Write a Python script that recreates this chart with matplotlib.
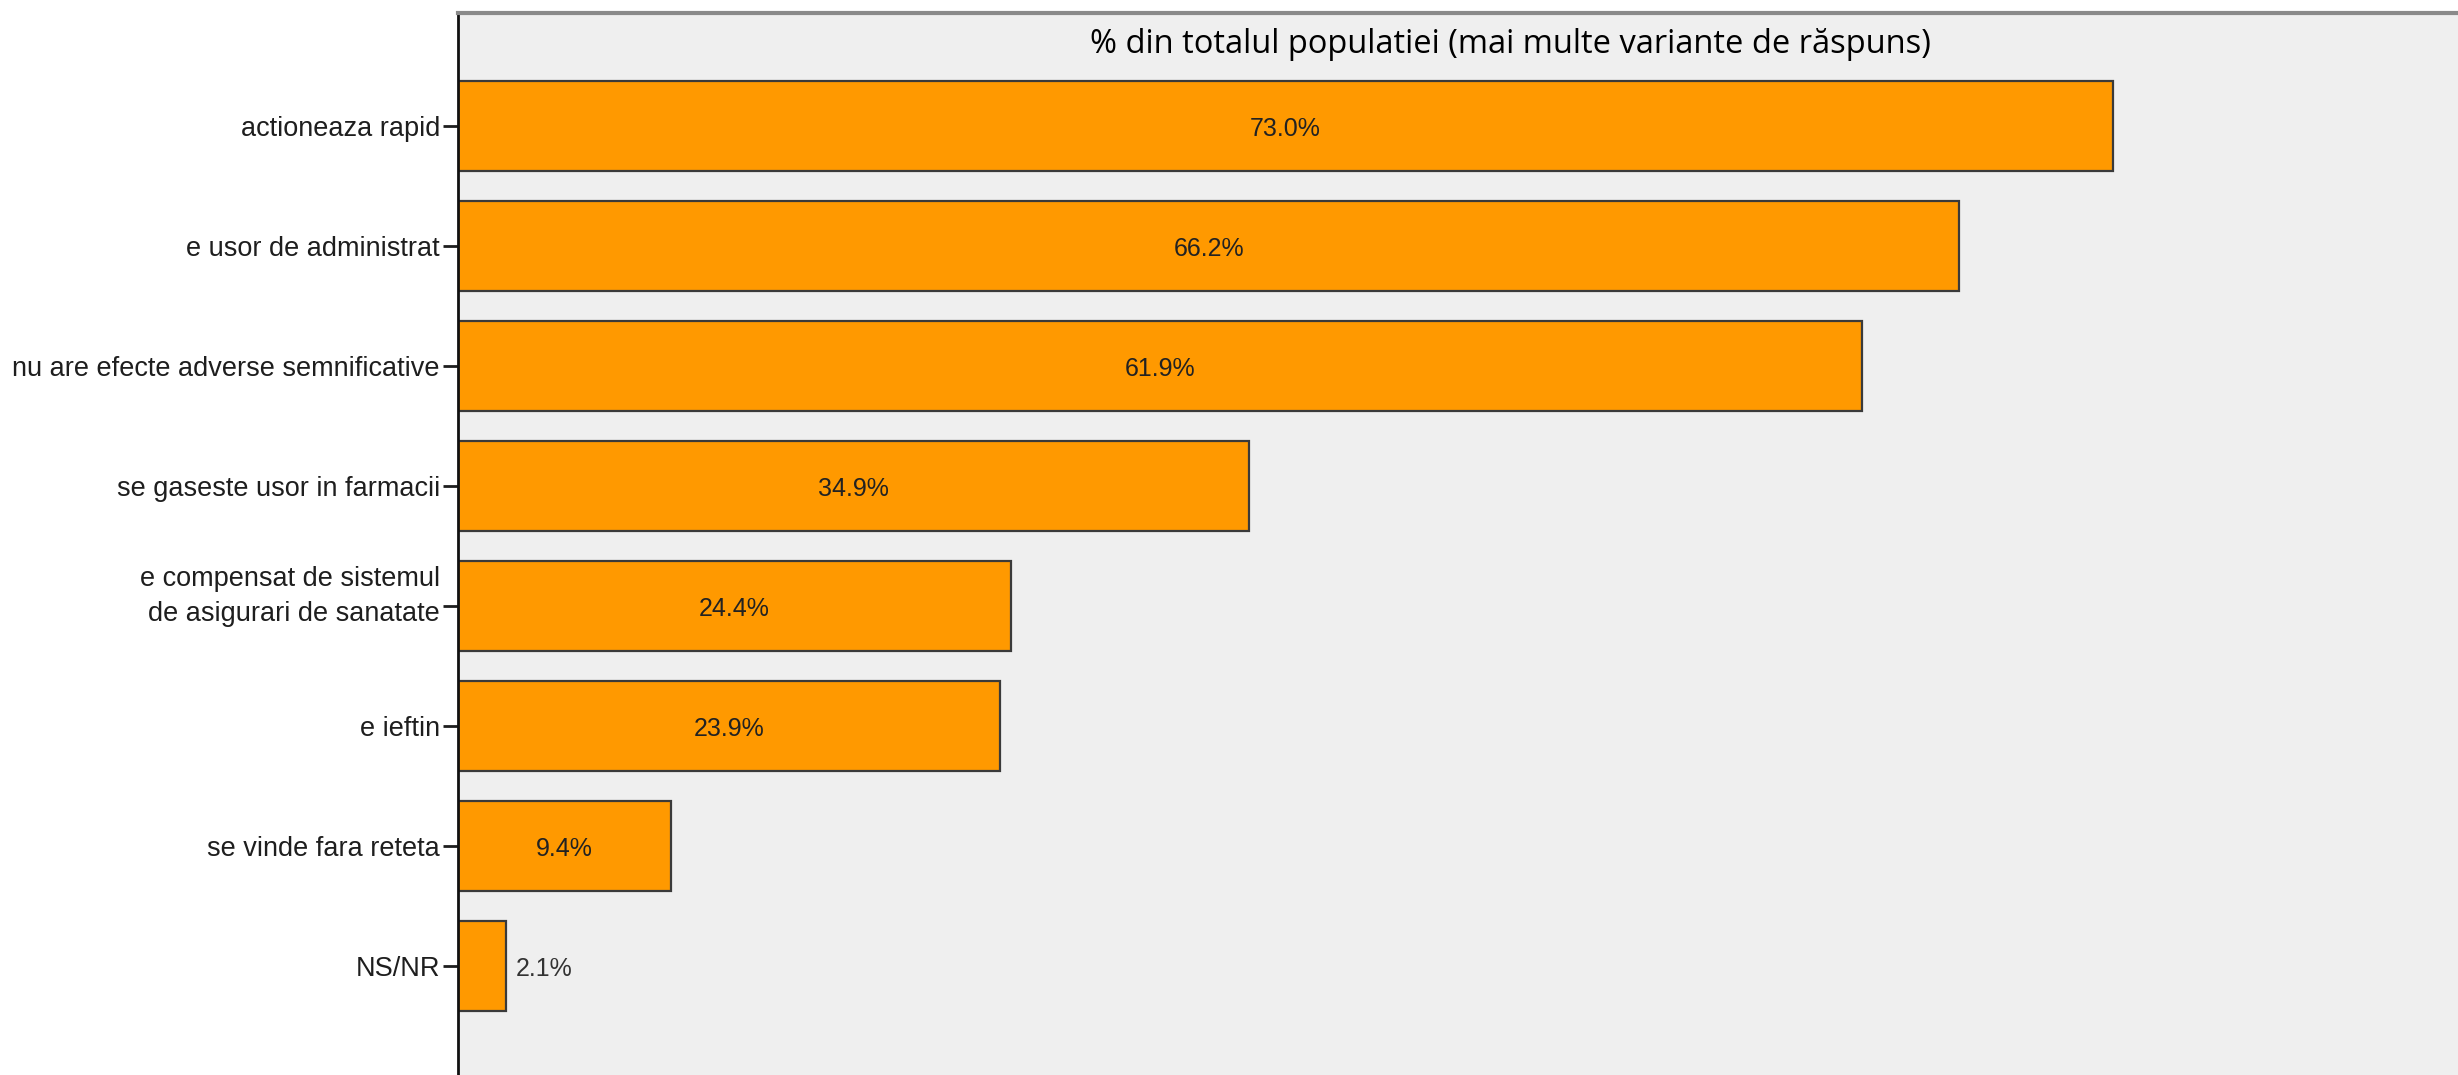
import matplotlib
matplotlib.use("Agg")
import matplotlib.pyplot as plt
from matplotlib.transforms import ScaledTranslation

# ----> data
categories = ["actioneaza rapid",
	"e usor de administrat",
	"nu are efecte adverse semnificative",
	"se gaseste usor in farmacii",
	"e compensat de sistemul\nde asigurari de sanatate",
	"e ieftin",
	"se vinde fara reteta",
	"NS/NR"]
values = [73.0, 66.2, 61.9, 34.9, 24.4, 23.9, 9.4, 2.1]
title = "% din totalul populatiei (mai multe variante de răspuns)"

W, H = 2458, 1075
fig = plt.figure(figsize = (W/100, H/100), dpi = 100, facecolor = "white")
left = 458/W
top = 13/H
ax = fig.add_axes([left, 0, 1 - left, 1 - top])
ax.set_facecolor("#efefef")

pos = list(range(len(values)))
ax.barh(pos, values, height = 0.75, color = "#ff9900", edgecolor = "#3a3a3a", linewidth = 1.6, zorder = 2)

ax.set_xlim(0, 88.2)
ax.set_ylim(7.91, -0.94)

ax.set_yticks(pos)
ax.set_yticklabels(categories, family = "Liberation Sans", fontsize = 19.5, color = "#1e1e1e", linespacing = 1.42)
ax.tick_params(axis = "y", length = 11, width = 2, color = "#1e1e1e", pad = 2)
ax.set_xticks([])

# the two line label sits with its last line on the tick
for lbl in ax.get_yticklabels():
	if "\n" in lbl.get_text():
		lbl.set_transform(lbl.get_transform() + ScaledTranslation(0, 12/72, fig.dpi_scale_trans))

for s in ["right", "bottom"]:
	ax.spines[s].set_visible(False)
ax.spines["left"].set_color("#111111")
ax.spines["left"].set_linewidth(2)
ax.spines["top"].set_color("#8a8a8a")
ax.spines["top"].set_linewidth(3)

# value labels
for i in range(len(values)):
	v = values[i]
	label = "%.1f%%" % v
	if v < 5:
		ax.annotate(label, (v, i), xytext = (7, -2), textcoords = "offset points",
			ha = "left", va = "center", family = "Liberation Sans", fontsize = 18, color = "#333333")
	else:
		ax.annotate(label, (v/2, i), xytext = (0, -2), textcoords = "offset points",
			ha = "center", va = "center", family = "Liberation Sans", fontsize = 18, color = "#222222")

ax.text(0.526, 0.986, title, transform = ax.transAxes, ha = "center", va = "top",
	family = "Open Sans", fontsize = 23.5, color = "black")

fig.savefig("out.png", dpi = 100, facecolor = "white")
